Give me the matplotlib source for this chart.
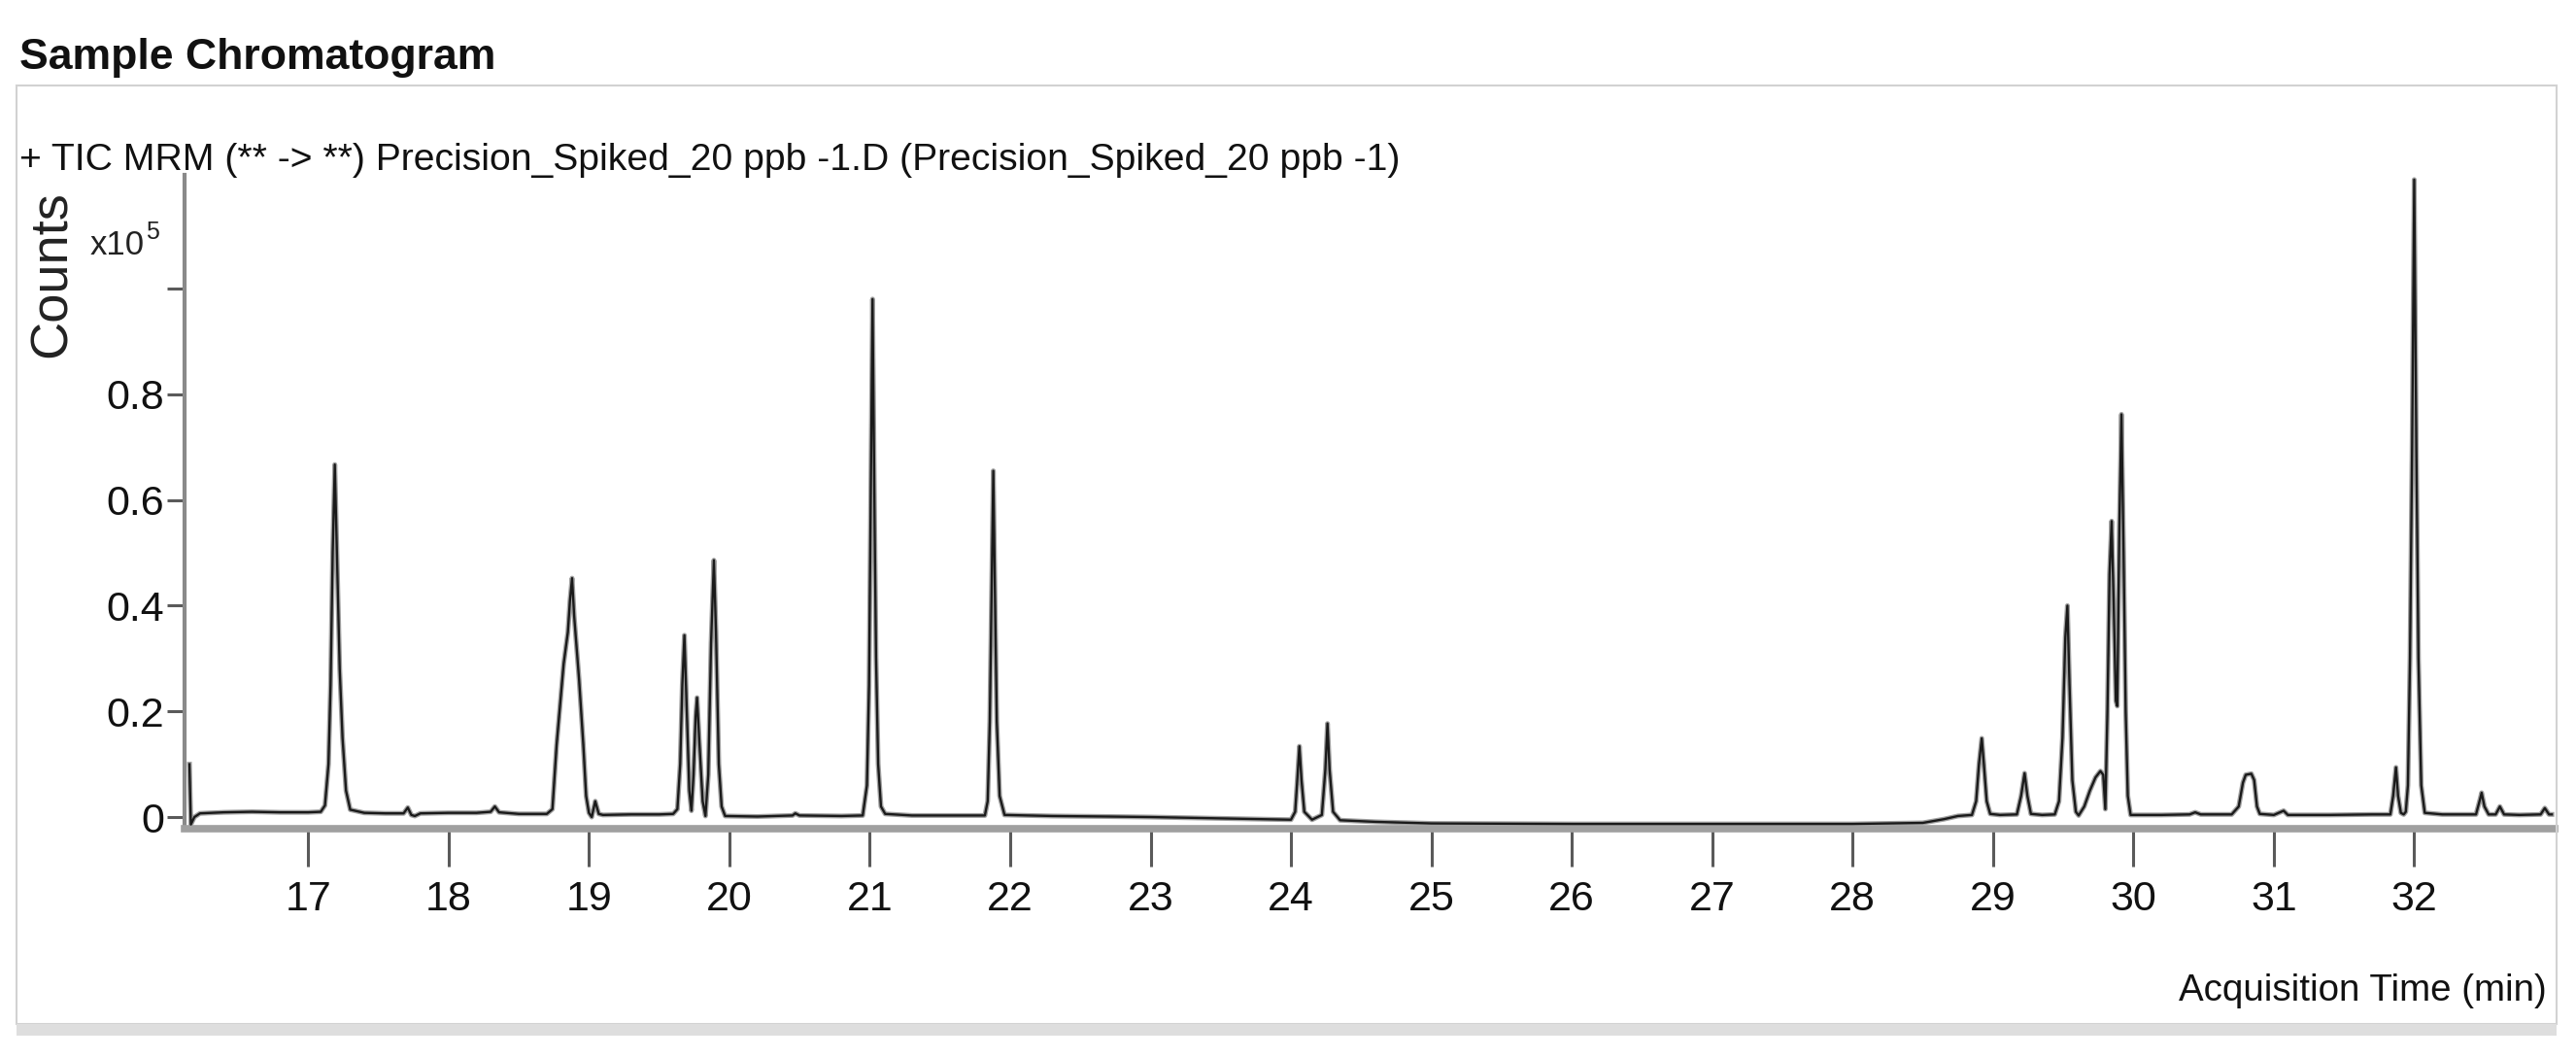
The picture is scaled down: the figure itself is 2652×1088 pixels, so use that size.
import matplotlib
matplotlib.use("Agg")
import matplotlib.pyplot as plt
from matplotlib import font_manager
from matplotlib.patches import Rectangle

# ---------------- data (time in min, counts in units of 1e5) ----------------
seg_a_time = [16.155, 16.165, 16.19, 16.23, 16.40, 16.60, 16.80, 17.00, 17.09, 17.12, 17.145,
              17.16, 17.175, 17.19, 17.205, 17.225, 17.245, 17.27, 17.30, 17.40, 17.55]
seg_a_counts = [0.100, -0.014, 0.000, 0.007, 0.009, 0.010, 0.009, 0.009, 0.010, 0.022, 0.10,
                0.25, 0.50, 0.667, 0.50, 0.28, 0.15, 0.05, 0.014, 0.008, 0.007]

seg_b_time = [17.68, 17.71, 17.735, 17.76, 17.80, 18.00, 18.20, 18.30, 18.33, 18.36, 18.50,
              18.70, 18.74, 18.77, 18.80, 18.82, 18.85, 18.865, 18.88, 18.895, 18.93, 18.96,
              18.98, 19.00, 19.02, 19.045, 19.07, 19.10, 19.30, 19.50, 19.60]
seg_b_counts = [0.007, 0.018, 0.004, 0.002, 0.007, 0.008, 0.008, 0.010, 0.020, 0.009, 0.006,
                0.006, 0.015, 0.137, 0.23, 0.29, 0.35, 0.41, 0.452, 0.38, 0.26, 0.137,
                0.04, 0.008, 0.000, 0.030, 0.006, 0.004, 0.005, 0.005, 0.006]

seg_c_time = [19.63, 19.65, 19.665, 19.68, 19.695, 19.715, 19.73, 19.745, 19.76, 19.77, 19.785,
              19.81, 19.83, 19.85, 19.87, 19.89, 19.905, 19.925, 19.945, 19.97, 20.20, 20.45,
              20.47, 20.50, 20.80, 20.95, 20.98, 20.995, 21.005, 21.02, 21.035, 21.045, 21.06,
              21.08, 21.11, 21.30, 21.60, 21.82, 21.84, 21.855, 21.868, 21.88, 21.893, 21.905,
              21.925, 21.96]
seg_c_counts = [0.015, 0.10, 0.25, 0.344, 0.22, 0.05, 0.012, 0.08, 0.19, 0.226, 0.15,
                0.03, 0.002, 0.08, 0.33, 0.486, 0.35, 0.10, 0.02, 0.002, 0.001, 0.003,
                0.007, 0.003, 0.002, 0.003, 0.06, 0.25, 0.55, 0.98, 0.55, 0.30, 0.10,
                0.02, 0.006, 0.003, 0.003, 0.003, 0.03, 0.18, 0.42, 0.655, 0.40, 0.18,
                0.04, 0.004]

seg_d_time = [22.30, 22.70, 23.00, 23.40, 23.80, 24.00, 24.03, 24.045, 24.06, 24.075, 24.095,
              24.15, 24.22, 24.245, 24.26, 24.275, 24.30, 24.35, 24.60, 25.00, 26.00, 27.00,
              28.00, 28.50, 28.65, 28.75]
seg_d_counts = [0.002, 0.001, 0.000, -0.002, -0.004, -0.005, 0.01, 0.07, 0.134, 0.07, 0.01,
                -0.005, 0.004, 0.09, 0.177, 0.09, 0.01, -0.006, -0.009, -0.012, -0.013, -0.013,
                -0.013, -0.011, -0.004, 0.002]

seg_e_time = [28.85, 28.88, 28.90, 28.92, 28.935, 28.955, 28.98, 29.05, 29.17, 29.20, 29.225,
              29.245, 29.27, 29.35, 29.44, 29.47, 29.495, 29.515, 29.53, 29.545, 29.565, 29.59,
              29.61, 29.65, 29.69, 29.73, 29.765, 29.785, 29.80, 29.815, 29.83, 29.845, 29.86,
              29.875, 29.885, 29.90, 29.915, 29.93, 29.945, 29.96, 29.98]
seg_e_counts = [0.004, 0.03, 0.10, 0.149, 0.10, 0.03, 0.006, 0.004, 0.005, 0.04, 0.083,
                0.04, 0.006, 0.004, 0.005, 0.03, 0.15, 0.34, 0.40, 0.25, 0.07, 0.01,
                0.003, 0.02, 0.05, 0.075, 0.087, 0.08, 0.015, 0.20, 0.46, 0.56, 0.40,
                0.22, 0.21, 0.55, 0.762, 0.50, 0.20, 0.04, 0.004]

seg_f_time = [30.20, 30.40, 30.44, 30.48, 30.70, 30.75, 30.78, 30.80, 30.84, 30.86, 30.88,
              30.90, 31.00, 31.07, 31.10, 31.40, 31.70, 31.83, 31.85, 31.87, 31.885, 31.905,
              31.925, 31.94, 31.955, 31.97, 31.985, 32.00, 32.015, 32.03, 32.05, 32.075, 32.20,
              32.44, 32.47, 32.48, 32.50, 32.53, 32.58, 32.61, 32.64, 32.75, 32.90, 32.93,
              32.96, 32.98]
seg_f_counts = [0.004, 0.005, 0.009, 0.005, 0.005, 0.02, 0.065, 0.08, 0.082, 0.07, 0.02,
                0.006, 0.004, 0.012, 0.004, 0.004, 0.005, 0.005, 0.04, 0.094, 0.04, 0.008,
                0.005, 0.01, 0.06, 0.30, 0.70, 1.206, 0.70, 0.30, 0.06, 0.008, 0.005,
                0.005, 0.035, 0.046, 0.02, 0.005, 0.005, 0.02, 0.005, 0.004, 0.005, 0.017,
                0.005, 0.005]

x_ticks = list(range(17, 33))
y_ticks = [0, 0.2, 0.4, 0.6, 0.8, 1.0]
y_tick_labels = ["0", "0.2", "0.4", "0.6", "0.8", ""]
title_text = "Sample Chromatogram"
subtitle_text = "+ TIC MRM (** -> **) Precision_Spiked_20 ppb -1.D (Precision_Spiked_20 ppb -1)"
y_label_text = "Counts"
x_label_text = "Acquisition Time (min)"
scale_text = "x10"
scale_exp = "5"

# ---------------- fonts ----------------
names = {f.name for f in font_manager.fontManager.ttflist}
if "Liberation Sans Narrow" in names:
    FAM = ["Liberation Sans Narrow", "DejaVu Sans"]
elif "Liberation Sans" in names:
    FAM = ["Liberation Sans", "DejaVu Sans"]
else:
    FAM = ["DejaVu Sans"]
plt.rcParams["font.family"] = FAM

# ---------------- figure ----------------
W, H = 2652, 1088
fig = plt.figure(figsize=(W / 100, H / 100), dpi=100)
fig.patch.set_facecolor("white")
renderer = fig.canvas.get_renderer()


def fx(px):
    return px / W


def fy(py):
    return 1 - py / H


def fit_width(t, target):
    bb = t.get_window_extent(renderer)
    t.set_fontsize(t.get_fontsize() * target / bb.width)


def fit_height(t, target):
    bb = t.get_window_extent(renderer)
    t.set_fontsize(t.get_fontsize() * target / bb.height)


# panel frame and shadow
fig.patches.append(Rectangle((fx(17), fy(1054)), fx(2632) - fx(17), fy(88) - fy(1054),
                             transform=fig.transFigure, fill=False, edgecolor="#d2d2d2",
                             linewidth=1.5, zorder=0))
fig.patches.append(Rectangle((fx(17), fy(1066)), fx(2632) - fx(17), fy(1054) - fy(1066),
                             transform=fig.transFigure, facecolor="#dedede", edgecolor="none",
                             zorder=0))

# texts
t_title = fig.text(fx(20), fy(71), title_text, fontsize=40, fontweight="bold",
                   ha="left", va="baseline", color="#111111")
fit_width(t_title, 490)
t_sub = fig.text(fx(20), fy(175), subtitle_text, fontsize=30, ha="left", va="baseline",
                 color="#111111")
fit_width(t_sub, 1421)
t_ylab = fig.text(fx(54), fy(282), y_label_text, fontsize=30, rotation=90,
                  ha="center", va="center", color="#222222")
fit_height(t_ylab, 172)
t_x10 = fig.text(fx(93), fy(262), scale_text, fontsize=30, ha="left", va="baseline",
                 color="#222222")
fit_width(t_x10, 56)
bb = t_x10.get_window_extent(renderer)
fig.text(fx(93 + bb.width + 1), fy(262 - 16), scale_exp, fontsize=t_x10.get_fontsize() * 0.72,
         ha="left", va="baseline", color="#222222")
t_xlab = fig.text(fx(2622), fy(1020), x_label_text, fontsize=34, ha="right", va="center",
                  color="#111111")
fit_width(t_xlab, 378)

# axes
ax = fig.add_axes([fx(190), fy(853), fx(2630) - fx(190), fy(180) - fy(853)])
ax.set_facecolor("white")
all_t = seg_a_time + seg_b_time + seg_c_time + seg_d_time + seg_e_time + seg_f_time
all_c = seg_a_counts + seg_b_counts + seg_c_counts + seg_d_counts + seg_e_counts + seg_f_counts
ax.plot(all_t, all_c, color="#a0a0a0", linewidth=3.6, solid_joinstyle="round", zorder=2)
ax.plot(all_t, all_c, color="#1a1a1a", linewidth=1.7, solid_joinstyle="round", zorder=3)

ax.set_xlim(16.12, 33.0)
ax.set_ylim(-0.022, 1.215)
ax.set_xticks(x_ticks)
ax.set_xticklabels([str(v) for v in x_ticks])
ax.set_yticks(y_ticks)
ax.set_yticklabels(y_tick_labels)

for s in ["top", "right"]:
    ax.spines[s].set_visible(False)
ax.spines["left"].set_color("#8a8a8a")
ax.spines["left"].set_linewidth(3)
ax.spines["bottom"].set_color("#a0a0a0")
ax.spines["bottom"].set_linewidth(5.5)

ax.tick_params(axis="x", direction="out", length=28, width=2.2, color="#5a5a5a",
               pad=10, labelsize=31, labelcolor="#111111")
ax.tick_params(axis="y", direction="out", length=13, width=2.2, color="#5a5a5a",
               pad=2, labelsize=31, labelcolor="#111111")

fig.savefig("out.png", dpi=100, facecolor="white")
